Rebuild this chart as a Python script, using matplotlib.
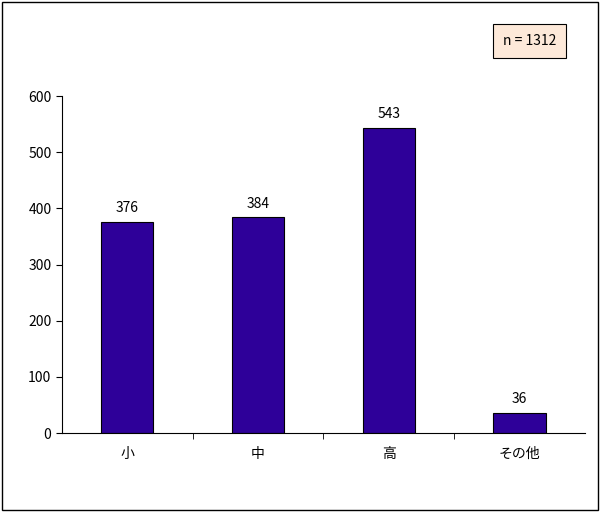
import matplotlib
matplotlib.use("Agg")
import matplotlib.pyplot as plt
from matplotlib.patches import Rectangle
from matplotlib.ticker import FixedLocator, NullFormatter

plt.rcParams['font.family'] = ['Noto Sans CJK JP', 'DejaVu Sans']

categories = ['小', '中', '高', 'その他']
counts = [376, 384, 543, 36]
total_label = 'n = 1312'

fig = plt.figure(figsize=(6.0, 5.12), dpi=100)
fig.patches.append(Rectangle((0.003, 0.003), 0.994, 0.994, transform=fig.transFigure,
                             fill=False, edgecolor='black', linewidth=1))

ax = fig.add_axes([0.103, 0.154, 0.872, 0.6585])
x = list(range(len(categories)))
bars = ax.bar(x, counts, width=0.4, color='#2E0099', edgecolor='black', linewidth=0.8)
for xi, v in zip(x, counts):
    ax.text(xi, v + 12, str(v), ha='center', va='bottom', fontsize=10)

ax.set_xlim(-0.5, len(categories) - 0.5)
ax.set_ylim(0, 600)
ax.set_yticks(range(0, 601, 100))
ax.set_xticks(x)
ax.set_xticklabels(categories, fontsize=10)
ax.tick_params(axis='x', which='major', length=0, pad=10)
ax.xaxis.set_minor_locator(FixedLocator([i + 0.5 for i in x[:-1]]))
ax.xaxis.set_minor_formatter(NullFormatter())
ax.tick_params(axis='x', which='minor', direction='out', length=4)
ax.tick_params(axis='y', direction='out', length=4, labelsize=10)
for s in ['top', 'right']:
    ax.spines[s].set_visible(False)

fig.text(0.883, 0.92, total_label, ha='center', va='center', fontsize=10,
         bbox=dict(boxstyle='square,pad=0.7', facecolor='#FDE9D9', edgecolor='black', linewidth=0.8))

fig.savefig('out.png', dpi=100)
